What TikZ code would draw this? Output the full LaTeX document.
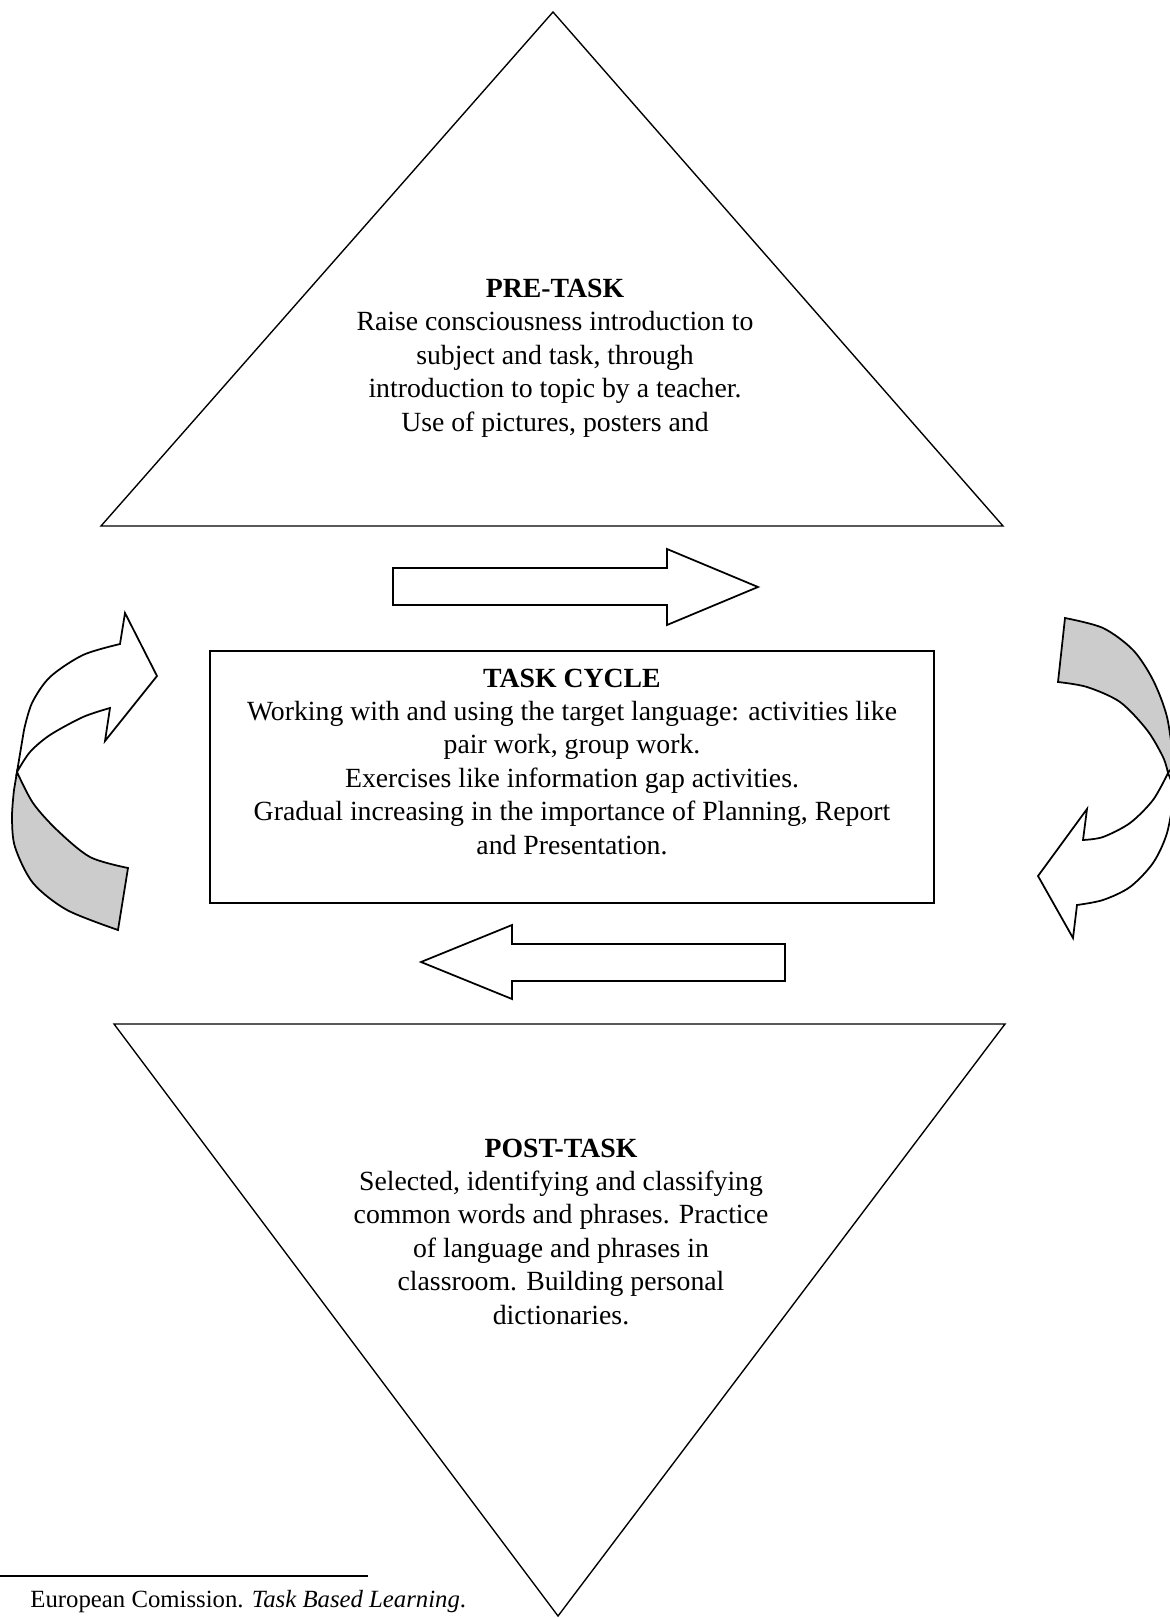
\documentclass[tikz,border=0pt]{standalone}
\usepackage{fontspec}
\setmainfont{Liberation Serif}
\definecolor{shade}{RGB}{204,204,204}
\begin{document}
\begin{tikzpicture}[x=0.4pt,y=-0.4pt,
  tri/.style={draw=black,line width=0.55pt,line join=miter},
  blk/.style={draw=black,line width=0.7pt,line join=miter},
  txt/.style={inner sep=0pt,align=center,anchor=base,font=\fontsize{11.1}{13.36}\selectfont},
  foot/.style={inner sep=0pt,anchor=base west,font=\fontsize{9.9}{12}\selectfont}]
\useasboundingbox[fill=white] (0,0) rectangle (1170,1618);
\clip (0,0) rectangle (1170,1618);
% triangles
\coordinate (pa) at (553,12);
\coordinate (pl) at (101,526);
\coordinate (pr) at (1003,526);
\draw[tri] (pa) -- (pr) -- (pl) -- cycle;
\coordinate (qa) at (558,1616);
\coordinate (ql) at (114,1024);
\coordinate (qr) at (1005,1024);
\draw[tri] (qa) -- (ql) -- (qr) -- cycle;
% box
\draw[blk] (210,651) rectangle (934,903);
% straight arrows
\draw[blk] (393,568) -- (667,568) -- (667,549) -- (758,587) -- (667,625) -- (667,605) -- (393,605) -- cycle;
\draw[blk] (785,944) -- (512,944) -- (512,925) -- (421,962) -- (512,999) -- (512,981) -- (785,981) -- cycle;
% left curved arrow
\filldraw[blk,fill=shade] (17,772) -- plot[smooth] coordinates {(17,772) (33,803) (57,830) (90,857) (128,868)}
  -- (118,930) -- plot[smooth] coordinates {(118,930) (67,910) (33,883) (15,847) (12,817) (14,790)} -- cycle;
\filldraw[blk,fill=white] (157,676) -- (125,613) -- (120,644)
  -- plot[smooth] coordinates {(120,644) (83,655) (50,677) (32,703) (24,730)}
  -- (17,772)
  -- plot[smooth] coordinates {(17,772) (30,752) (50,735) (83,717) (110,708)}
  -- (105,741) -- cycle;
% right curved arrow
\filldraw[blk,fill=shade] (1065,618) -- plot[smooth] coordinates {(1065,618) (1103,628) (1133,650) (1153,680) (1167,717) (1174,765)}
  -- (1168,773) -- plot[smooth] coordinates {(1168,773) (1163,757) (1147,730) (1120,702) (1087,687) (1058,682)} -- cycle;
\filldraw[blk,fill=white] (1168,773) -- plot[smooth] coordinates {(1168,773) (1153,800) (1130,823) (1103,837) (1083,840)}
  -- (1087,809) -- (1038,876) -- (1073,938) -- (1077,905)
  -- plot[smooth] coordinates {(1077,905) (1103,900) (1130,887) (1153,863) (1167,833) (1175,790)} -- cycle;
% texts (base anchor = baseline of last line)
\node[txt] (pre) at (555,431) {\textbf{PRE-TASK}\\Raise consciousness introduction to\\subject and task, through\\introduction to topic by a teacher.\\Use of pictures, posters and};
\node[txt] (cyc) at (572,854) {\textbf{TASK CYCLE}\\Working with and using the target language: activities like\\pair work, group work.\\Exercises like information gap activities.\\Gradual increasing in the importance of Planning, Report\\and Presentation.};
\node[txt] (post) at (561,1324) {\textbf{POST-TASK}\\Selected, identifying and classifying\\common words and phrases. Practice\\of language and phrases in\\classroom. Building personal\\dictionaries.};
% footnote
\coordinate (f0) at (0,1576);
\coordinate (f1) at (368,1576);
\draw[line width=0.6pt] (f0) -- (f1);
\node[foot] (fn) at (30,1607) {European Comission. \textit{Task Based Learning}.};
\end{tikzpicture}
\end{document}
